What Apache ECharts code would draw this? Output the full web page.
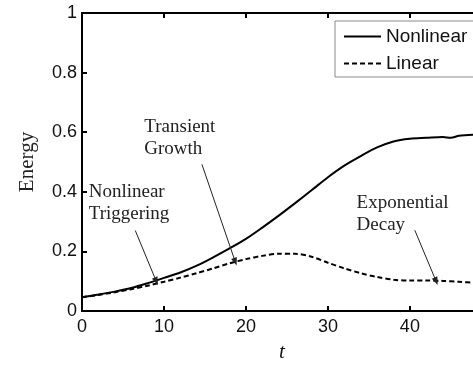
<!DOCTYPE html>
<html>
<head>
<meta charset="utf-8">
<script src="https://cdn.jsdelivr.net/npm/echarts@6/dist/echarts.min.js"></script>
<style>
html,body{margin:0;padding:0;background:#fff;}
#c{width:473px;height:368px;}
</style>
</head>
<body>
<div id="c"></div>
<script>
const tValues = [0,2,4,6,8,10,12,14,16,18,20,22,24,26,28,30,32,34,36,38,40,42,44,45,46,48,50];
const nonlinearValues = [0.046,0.055,0.065,0.077,0.093,0.111,0.129,0.152,0.180,0.210,0.242,0.280,0.320,0.362,0.405,0.449,0.488,0.520,0.549,0.569,0.578,0.581,0.584,0.581,0.588,0.592,0.594];
const tLinear = [0,2,4,6,8,10,12,14,16,18,20,22,24,26,28,30,32,34,36,38,40,42,44,46,48,50];
const linearValues = [0.046,0.054,0.063,0.073,0.085,0.098,0.112,0.127,0.143,0.160,0.174,0.185,0.192,0.192,0.182,0.162,0.143,0.127,0.114,0.105,0.102,0.102,0.101,0.098,0.095,0.094];
const xTicks = [0,10,20,30,40];
const seriesNames = ['Nonlinear','Linear'];
const annotationTexts = ['Nonlinear\nTriggering','Transient\nGrowth','Exponential\nDecay'];
const annotationAnchors = [[0.82,0.435],[7.6,0.654],[33.5,0.399]];
const arrowStarts = [[6.5,0.270],[14.63,0.492],[40.6,0.271]];
const arrowEnds = [[9.06,0.100],[18.7,0.165],[43.2,0.100]];

const chart = echarts.init(document.getElementById('c'));
const axisLine = {show:true, lineStyle:{color:'#000', width:2}};
const sans = 'Liberation Sans, Arial, sans-serif';
const serif = 'Liberation Serif, Times New Roman, serif';
const tick = {show:true, inside:true, length:5, lineStyle:{color:'#000', width:2}, customValues:xTicks};

chart.setOption({
  animation:false,
  backgroundColor:'#fff',
  grid:{left:82, top:13, bottom:49, right:0, containLabel:false},
  legend:{
    orient:'vertical', left:335, top:21,
    padding:[6,40,4,8], itemGap:8, itemWidth:37, itemHeight:14,
    borderColor:'#8a8a8a', borderWidth:1, backgroundColor:'#fff',
    itemStyle:{opacity:0},
    textStyle:{fontFamily:sans, fontSize:19, color:'#111'},
    data:seriesNames
  },
  xAxis:[{
    type:'value', min:0, max:47.7, interval:10, position:'bottom',
    axisLine:axisLine,
    axisTick:tick,
    axisLabel:{fontFamily:sans, fontSize:18, color:'#111', margin:7, customValues:xTicks},
    splitLine:{show:false},
    name:'t', nameLocation:'middle', nameGap:31,
    nameTextStyle:{fontFamily:serif, fontStyle:'italic', fontSize:21, color:'#111', padding:[0,0,0,9]}
  },{
    type:'value', min:0, max:47.7, interval:10, position:'top',
    axisLine:axisLine,
    axisTick:tick,
    axisLabel:{show:false}, splitLine:{show:false}
  }],
  yAxis:{
    type:'value', min:0, max:1, interval:0.2,
    axisLine:axisLine,
    axisTick:{show:true, inside:true, length:5, lineStyle:{color:'#000', width:2}},
    axisLabel:{fontFamily:sans, fontSize:18, color:'#111', margin:5},
    splitLine:{show:false},
    name:'Energy', nameLocation:'middle', nameGap:44, nameRotate:90,
    nameTextStyle:{fontFamily:serif, fontSize:21, color:'#222'}
  },
  series:[{
    name:seriesNames[0], type:'line', symbol:'none', smooth:0.3,
    data:tValues.map((t,i)=>[t,nonlinearValues[i]]),
    lineStyle:{color:'#000', width:2}, itemStyle:{color:'#000'},
    markLine:{
      silent:true, symbol:['none','triangle'], symbolSize:[6,8],
      lineStyle:{color:'#222', width:1, type:'solid'},
      label:{show:false},
      data:arrowStarts.map((s,i)=>[{coord:s},{coord:arrowEnds[i]}])
    }
  },{
    name:seriesNames[1], type:'line', symbol:'none', smooth:0.3,
    data:tLinear.map((t,i)=>[t,linearValues[i]]),
    lineStyle:{color:'#000', width:2, type:[5,3]}, itemStyle:{color:'#000'}
  }]
});

const g = annotationTexts.map((txt,i)=>{
  const p = chart.convertToPixel({gridIndex:0}, annotationAnchors[i]);
  return {type:'text', x:p[0], y:p[1], z:100,
    style:{text:txt, fontFamily:serif, fontSize:19, lineHeight:22, fill:'#222', align:'left', verticalAlign:'top'}};
});
chart.setOption({graphic:g});
</script>
</body>
</html>
